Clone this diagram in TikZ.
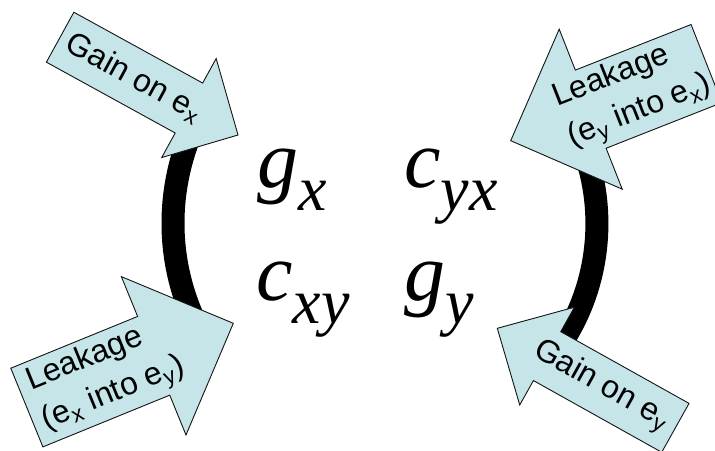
\documentclass[tikz,border=0pt]{standalone}
\usepackage{fontspec}
\setmainfont{Liberation Sans}
\newfontfamily\eqfont{Liberation Serif}
\usetikzlibrary{calc}
\definecolor{arrowfill}{RGB}{197,229,232}
\definecolor{arrowline}{RGB}{20,20,20}
% #1 name, #2 tip, #3 direction, #4 shaft length, #5 head length,
% #6 shaft width, #7 head width, #8 text angle, #9 text
\newcommand{\blockarrow}[9]{%
  \begin{scope}[shift={(#2)}, rotate=#3]
    \draw[arrowbody] (0,0) -- ({-#5},{#7/2}) -- ({-#5},{#6/2}) -- ({-#5-#4},{#6/2})
      -- ({-#5-#4},{-#6/2}) -- ({-#5},{-#6/2}) -- ({-#5},{-#7/2}) -- cycle;
    \node[arrowtext, rotate=#8] (#1) at ({-0.8*#5-0.5*#4},0) {#9};
  \end{scope}}
\newcommand{\entrysub}[1]{\raisebox{-11.5pt}{\fontsize{32}{32}\selectfont #1}}

\begin{document}
\begin{tikzpicture}[
  x=0.5pt, y=0.5pt,
  arrowbody/.style={draw=arrowline, line width=0.45pt, fill=arrowfill, line join=miter},
  arrowtext/.style={font=\fontsize{16}{21}\selectfont, align=left, inner sep=0pt},
  brace/.style={line width=11.5pt},
  entry/.style={anchor=base west, inner sep=0pt, font=\eqfont\itshape\fontsize{41}{41}\selectfont},
]
\useasboundingbox (0,0) rectangle (715,450);
\clip (0,0) rectangle (715,450);

% ===== Brackets =====
\draw[brace] (193,322) .. controls (166,260) and (166,190) .. (195,128);
\draw[brace] (580,310) .. controls (606,250) and (604,170) .. (560,105);

% ===== Entries =====
\node[entry] (gx)  at (257,263) {g\entrysub{x}};
\node[entry] (cyx) at (404,263) {c\entrysub{yx}};
\node[entry] (cxy) at (256,150) {c\entrysub{xy}};
\node[entry] (gy)  at (404,150) {g\entrysub{y}};

% ===== Arrows =====
\blockarrow{gainx}{238,315}{-28.8}{147}{56}{57}{113}{-28.8}{Gain on e\textsubscript{x}}
\blockarrow{gainy}{497.3,121.7}{150.8}{147}{57}{56}{112}{-29.2}{Gain on e\textsubscript{y}}
\blockarrow{leakx}{510.7,309.3}{201.5}{124.4}{86}{84}{172}{21.5}{Leakage\\(e\textsubscript{y} into e\textsubscript{x})}
\blockarrow{leaky}{233.3,126.7}{22.2}{137}{86}{85}{171}{22.2}{Leakage\\(e\textsubscript{x} into e\textsubscript{y})}
\end{tikzpicture}
\end{document}
